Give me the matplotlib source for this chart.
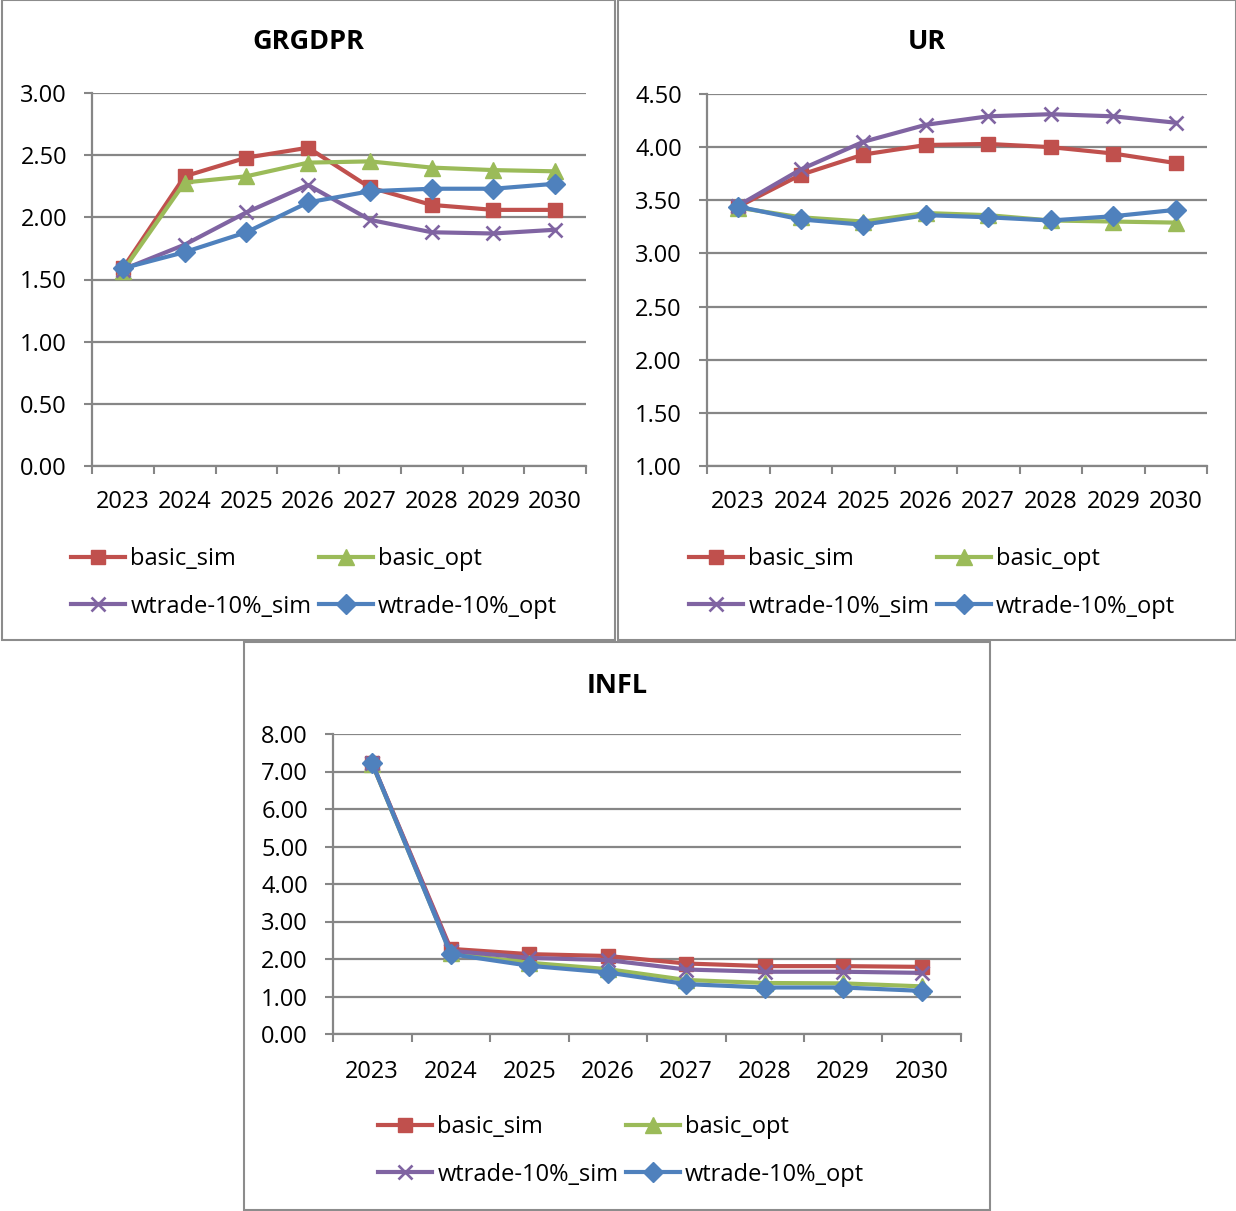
import matplotlib
matplotlib.use("Agg")
import matplotlib.pyplot as plt
from matplotlib.patches import Rectangle

plt.rcParams['font.family'] = ['Open Sans', 'DejaVu Sans']

years = ['2023', '2024', '2025', '2026', '2027', '2028', '2029', '2030']
series_names = ['basic_sim', 'basic_opt', 'wtrade-10%_sim', 'wtrade-10%_opt']

# GRGDPR
grgdpr_basic_sim = [1.59, 2.33, 2.48, 2.56, 2.24, 2.10, 2.06, 2.06]
grgdpr_basic_opt = [1.57, 2.28, 2.33, 2.44, 2.45, 2.40, 2.38, 2.37]
grgdpr_wtrade_sim = [1.58, 1.78, 2.04, 2.26, 1.98, 1.88, 1.87, 1.90]
grgdpr_wtrade_opt = [1.59, 1.72, 1.88, 2.12, 2.21, 2.23, 2.23, 2.27]

# UR
ur_basic_sim = [3.44, 3.74, 3.93, 4.02, 4.03, 4.00, 3.94, 3.85]
ur_basic_opt = [3.43, 3.34, 3.30, 3.38, 3.36, 3.31, 3.30, 3.29]
ur_wtrade_sim = [3.45, 3.79, 4.05, 4.21, 4.29, 4.31, 4.29, 4.23]
ur_wtrade_opt = [3.44, 3.32, 3.27, 3.36, 3.34, 3.31, 3.35, 3.41]

# INFL
infl_basic_sim = [7.22, 2.27, 2.13, 2.08, 1.88, 1.81, 1.81, 1.79]
infl_basic_opt = [7.20, 2.15, 1.90, 1.73, 1.44, 1.36, 1.35, 1.27]
infl_wtrade_sim = [7.22, 2.22, 2.03, 1.97, 1.72, 1.66, 1.66, 1.63]
infl_wtrade_opt = [7.22, 2.13, 1.82, 1.64, 1.33, 1.24, 1.24, 1.15]

colors = ['#C0504D', '#9BBB59', '#8064A2', '#4F81BD']
markers = ['s', '^', 'x', 'D']
msizes = [10.5, 11.5, 10.5, 10.5]

W, H = 1236, 1211
fig = plt.figure(figsize=(W / 100, H / 100), dpi=100)
GRID = '#868686'
FS = 17


def fbox(x0, y0, x1, y1):
    """pixel box (top-left origin) -> figure fraction [l, b, w, h]"""
    return [x0 / W, 1 - y1 / H, (x1 - x0) / W, (y1 - y0) / H]


def panel(frame, axbox, title, title_y, data, ylim, yticks, legend_xy, xpad):
    fx0, fy0, fx1, fy1 = frame
    fig.patches.append(Rectangle((fx0 / W, 1 - fy1 / H), (fx1 - fx0) / W, (fy1 - fy0) / H,
                                 transform=fig.transFigure, fill=False,
                                 edgecolor='#8C8C8C', linewidth=1.5))
    ax = fig.add_axes(fbox(*axbox))
    x = list(range(len(years)))
    handles = []
    for vals, c, m, ms in zip(data, colors, markers, msizes):
        mew = 1.9 if m == 'x' else 1.0
        h, = ax.plot(x, vals, color=c, linewidth=3.0, marker=m, markersize=ms,
                     markeredgewidth=mew, markeredgecolor=c, markerfacecolor=c,
                     clip_on=False, zorder=3)
        handles.append(h)
    ax.set_xlim(-0.5, len(years) - 0.5)
    ax.set_ylim(*ylim)
    ax.set_yticks(yticks)
    ax.set_yticklabels([f'{v:.2f}' for v in yticks], fontsize=FS)
    ax.set_xticks(x)
    ax.set_xticklabels(years, fontsize=FS)
    ax.set_xticks([i - 0.5 for i in range(len(years) + 1)], minor=True)
    ax.tick_params(axis='x', which='major', length=0, pad=xpad)
    ax.tick_params(axis='x', which='minor', length=6, width=1.5, color=GRID, direction='out')
    ax.tick_params(axis='y', length=6, width=1.5, color=GRID, pad=12)
    ax.grid(axis='y', color=GRID, linewidth=1.6, zorder=0)
    ax.set_axisbelow(True)
    for s in ['top', 'right']:
        ax.spines[s].set_visible(False)
    for s in ['left', 'bottom']:
        ax.spines[s].set_color(GRID)
        ax.spines[s].set_linewidth(1.6)
    ax.set_facecolor('none')
    cx = (fx0 + fx1) / 2
    fig.text(cx / W, 1 - title_y / H, title, fontsize=19.5, fontweight='bold',
             ha='center', va='center')

    # legend laid out in two rows
    lx, ly = legend_xy
    order = [0, 2, 1, 3]
    fig.legend([handles[i] for i in order], [series_names[i] for i in order],
               loc='upper left', bbox_to_anchor=(lx / W, 1 - ly / H),
               ncol=2, frameon=False, fontsize=FS, handlelength=2.3,
               handletextpad=0.22, columnspacing=0.3, labelspacing=1.0,
               borderpad=0, borderaxespad=0)
    return ax


panel((2, 0, 615, 640), (92, 93, 586, 466), 'GRGDPR', 42,
      [grgdpr_basic_sim, grgdpr_basic_opt, grgdpr_wtrade_sim, grgdpr_wtrade_opt],
      (0, 3), [0, 0.5, 1.0, 1.5, 2.0, 2.5, 3.0], (71, 547), 17)

panel((618, 0, 1236, 640), (707, 94, 1207, 466), 'UR', 42,
      [ur_basic_sim, ur_basic_opt, ur_wtrade_sim, ur_wtrade_opt],
      (1.0, 4.5), [1.0, 1.5, 2.0, 2.5, 3.0, 3.5, 4.0, 4.5], (689, 547), 17)

panel((244, 642, 990, 1210), (333, 734, 961, 1034), 'INFL', 686,
      [infl_basic_sim, infl_basic_opt, infl_wtrade_sim, infl_wtrade_opt],
      (0, 8), [0, 1, 2, 3, 4, 5, 6, 7, 8], (378, 1115), 19)

fig.savefig('out.png', dpi=100)
